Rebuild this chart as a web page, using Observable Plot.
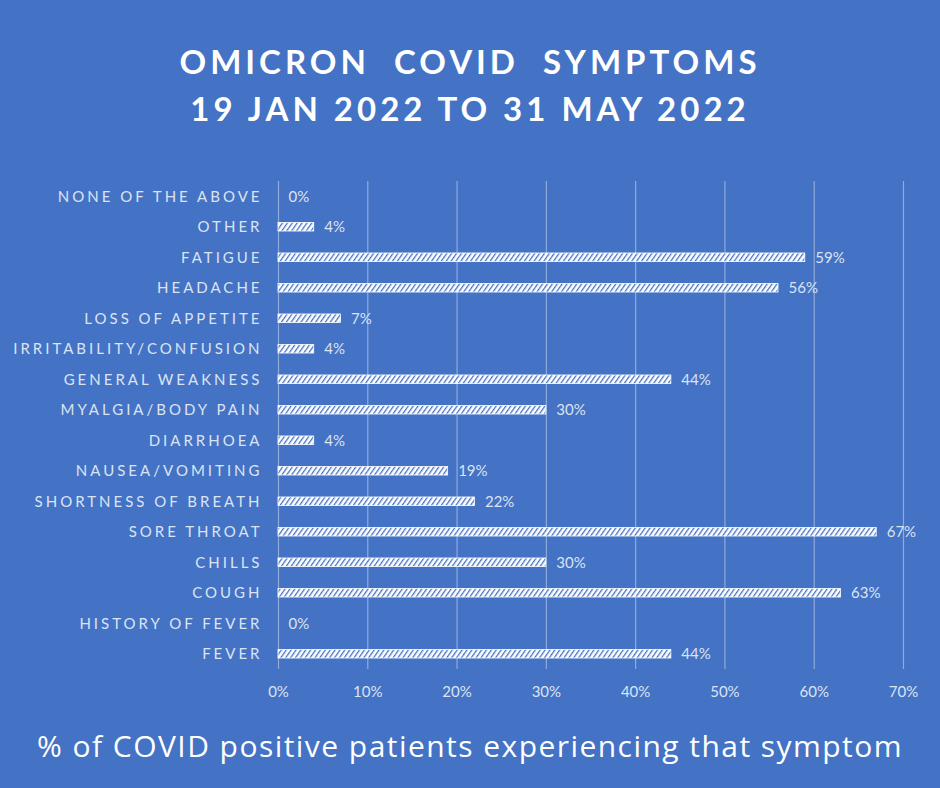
<!DOCTYPE html>
<html>
<head>
<meta charset="utf-8">
<script src="https://cdn.jsdelivr.net/npm/d3@7"></script>
<script src="https://cdn.jsdelivr.net/npm/@observablehq/plot@0.6"></script>
<style>
  html, body { margin: 0; padding: 0; background: #4472C4; }
  body { width: 940px; height: 788px; overflow: hidden; }
  #title { height: 165px; box-sizing: border-box; padding-top: 38px; text-align: center; color: #fff;
    font-family: Lato, "Open Sans", sans-serif; font-weight: 700; font-size: 33px; letter-spacing: 4px; line-height: 47px; }
  #chart { height: 555px; }
  #caption { text-align: center; color: #fff; font-family: "Open Sans", sans-serif; font-size: 30px; letter-spacing: 1.45px; margin-top: 5px; }
</style>
</head>
<body>
<div id="title"><div>OMICRON&nbsp; COVID&nbsp; SYMPTOMS</div><div>19 JAN 2022 TO 31 MAY 2022</div></div>
<div id="chart"></div>
<div id="caption">% of COVID positive patients experiencing that symptom</div>
<script>
const symptoms = ["NONE OF THE ABOVE", "OTHER", "FATIGUE", "HEADACHE", "LOSS OF APPETITE", "IRRITABILITY/CONFUSION", "GENERAL WEAKNESS", "MYALGIA/BODY PAIN", "DIARRHOEA", "NAUSEA/VOMITING", "SHORTNESS OF BREATH", "SORE THROAT", "CHILLS", "COUGH", "HISTORY OF FEVER", "FEVER"];
const percents = [0, 4, 59, 56, 7, 4, 44, 30, 4, 19, 22, 67, 30, 63, 0, 44];
const xTicks = [0, 10, 20, 30, 40, 50, 60, 70];

const data = symptoms.map((s, i) => ({symptom: s, value: percents[i]}));

const plot = Plot.plot({
  width: 940,
  height: 555,
  marginTop: 16,
  marginBottom: 51,
  marginLeft: 278,
  marginRight: 37,
  style: {background: "transparent", color: "#dbe4f3", fontFamily: "Lato, sans-serif", fontSize: "15px"},
  x: {domain: [0, 70], ticks: xTicks, tickFormat: d => d + "%", label: null, grid: false},
  y: {domain: symptoms, label: null, paddingInner: 0.72, paddingOuter: 0.36, round: false},
  marks: [
    Plot.ruleX(xTicks, {stroke: "#8fabdc", strokeWidth: 1.2}),
    Plot.barX(data, {x: "value", y: "symptom", fill: "url(#hatch)", stroke: "#fff", strokeWidth: 0.8}),
    Plot.text(data, {x: "value", y: "symptom", text: d => d.value + "%", textAnchor: "start", dx: 10, fill: "#dbe4f3", fontSize: 15}),
    Plot.axisX({ticks: xTicks, tickFormat: d => d + "%", tickSize: 0, tickPadding: 17, fontSize: 15, label: null}),
    Plot.axisY({tickSize: 0, tickPadding: 16, fontSize: 15, label: null})
  ]
});

const ns = "http://www.w3.org/2000/svg";
const defs = document.createElementNS(ns, "defs");
defs.innerHTML = `<pattern id="hatch" patternUnits="userSpaceOnUse" width="4" height="4" patternTransform="rotate(35)">
  <rect width="4" height="4" fill="#fff"/>
  <rect width="1.3" height="4" fill="#4472C4"/>
</pattern>`;
plot.insertBefore(defs, plot.firstChild);
plot.querySelectorAll("g[aria-label='y-axis tick label'] text").forEach(t => {
  t.setAttribute("letter-spacing", "3px");
});
document.getElementById("chart").appendChild(plot);
</script>
</body>
</html>
